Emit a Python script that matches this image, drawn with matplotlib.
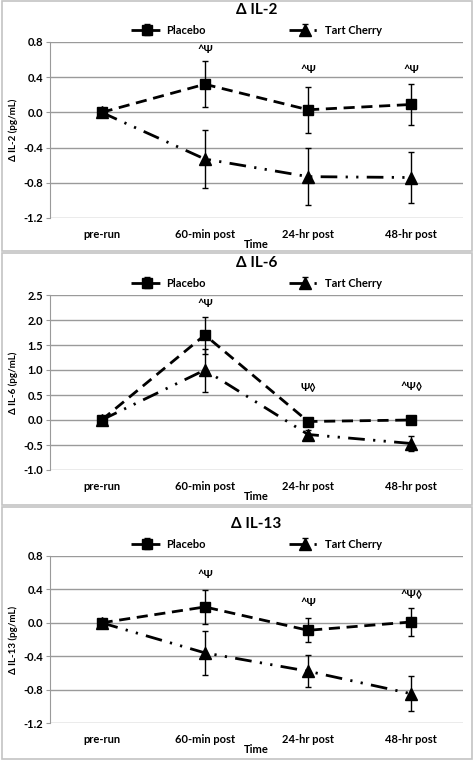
import numpy as np
import matplotlib.pyplot as plt
from matplotlib.patches import Rectangle

plt.rcParams['font.family'] = ['Lato', 'DejaVu Sans']
plt.rcParams['font.weight'] = 'bold'
plt.rcParams['axes.titleweight'] = 'bold'
plt.rcParams['axes.labelweight'] = 'bold'

times = ["pre-run", "60-min post", "24-hr post", "48-hr post"]

# IL-2
il2_placebo = [0.0, 0.32, 0.03, 0.09]
il2_placebo_err = [0.0, 0.26, 0.26, 0.23]
il2_cherry = [0.0, -0.53, -0.73, -0.74]
il2_cherry_err = [0.0, 0.33, 0.32, 0.29]
il2_marks = ["", "^\u03a8", "^\u03a8", "^\u03a8"]
il2_mark_y = [None, 0.72, 0.49, 0.49]

# IL-6
il6_placebo = [0.0, 1.70, -0.03, 0.0]
il6_placebo_err = [0.0, 0.37, 0.0, 0.0]
il6_cherry = [0.0, 1.0, -0.29, -0.47]
il6_cherry_err = [0.0, 0.43, 0.1, 0.15]
il6_marks = ["", "^\u03a8", "\u03a8\u25ca", "^\u03a8\u25ca"]
il6_mark_y = [None, 2.33, 0.67, 0.67]

# IL-13
il13_placebo = [0.0, 0.19, -0.09, 0.01]
il13_placebo_err = [0.0, 0.2, 0.145, 0.17]
il13_cherry = [0.0, -0.36, -0.58, -0.85]
il13_cherry_err = [0.0, 0.26, 0.19, 0.21]
il13_marks = ["", "^\u03a8", "^\u03a8", "^\u03a8\u25ca"]
il13_mark_y = [None, 0.58, 0.24, 0.34]

W, H = 473, 760
fig = plt.figure(figsize=(W / 100, H / 100), dpi=100)

panels = [
    ("\u0394 IL-2", "\u0394 IL-2 (pg/mL)", il2_placebo, il2_placebo_err, il2_cherry, il2_cherry_err,
     il2_marks, il2_mark_y, (-1.2, 0.8), 0.4, (42, 218), (1, 251)),
    ("\u0394 IL-6", "\u0394 IL-6 (pg/mL)", il6_placebo, il6_placebo_err, il6_cherry, il6_cherry_err,
     il6_marks, il6_mark_y, (-1.0, 2.5), 0.5, (295, 470), (253, 505)),
    ("\u0394 IL-13", "\u0394 IL-13 (pg/mL)", il13_placebo, il13_placebo_err, il13_cherry, il13_cherry_err,
     il13_marks, il13_mark_y, (-1.2, 0.8), 0.4, (556, 723), (507, 759)),
]

x = np.arange(len(times)) + 0.5
grid_c = "#9a9a9a"

for (title, ylab, pl, ple, tc, tce, marks, mark_y, ylim, step, (top, bot), (btop, bbot)) in panels:
    # panel frame
    fig.patches.append(Rectangle((1.5 / W, 1 - bbot / H), (W - 3) / W, (bbot - btop) / H,
                                 transform=fig.transFigure, fill=False, ec="#c4c4c4", lw=1.2))
    ax = fig.add_axes([50 / W, 1 - bot / H, 413 / W, (bot - top) / H])
    ax.set_xlim(0, 4)
    ax.set_ylim(*ylim)
    yt = np.arange(ylim[0], ylim[1] + step / 2, step)
    ax.set_yticks(yt)
    ax.set_yticklabels([f"{v:.1f}" if abs(v) > 1e-9 else "0.0" for v in yt],
                       fontsize=8, fontweight="bold")
    ax.yaxis.grid(True, color=grid_c, lw=1.0)
    ax.set_axisbelow(True)
    for s in ["top", "right", "bottom"]:
        ax.spines[s].set_visible(False)
    ax.spines["left"].set_color(grid_c)
    ax.tick_params(axis="y", length=3, color=grid_c, pad=2)
    ax.tick_params(axis="x", length=0, pad=8)
    ax.set_xticks(x)
    ax.set_xticklabels(times, fontsize=8, fontweight="bold")
    ax.set_xlabel("Time", fontsize=8, fontweight="bold", labelpad=-1)
    ax.set_ylabel(ylab, fontsize=7, fontweight="bold", labelpad=4)

    ax.errorbar(x, pl, yerr=ple, color="black", lw=2.0, ls=(0, (4, 2.4)),
                marker="s", ms=7, elinewidth=1.0, capsize=2.5, capthick=1.0,
                label="Placebo", zorder=3)
    ax.errorbar(x, tc, yerr=tce, color="black", lw=2.0, ls=(0, (6, 3, 0.8, 3, 0.8, 3)),
                marker="^", ms=8.5, elinewidth=1.0, capsize=2.5, capthick=1.0,
                label="Tart Cherry", zorder=3)

    for xi, m, my in zip(x, marks, mark_y):
        if m:
            ax.text(xi, my, m, ha="center", va="center", fontsize=8, fontweight="bold")

    ax.set_title(title, fontsize=11, fontweight="bold", pad=20)
    handles, labels = ax.get_legend_handles_labels()
    ax.legend(handles, labels, loc="center", bbox_to_anchor=(0.5, 1 + 12 / (bot - top)),
              ncol=2, frameon=False, handlelength=2.8, columnspacing=7.5,
              handletextpad=0.4, borderpad=0, borderaxespad=0,
              prop={"size": 8, "weight": "bold"})

fig.savefig("out.png", dpi=100)
